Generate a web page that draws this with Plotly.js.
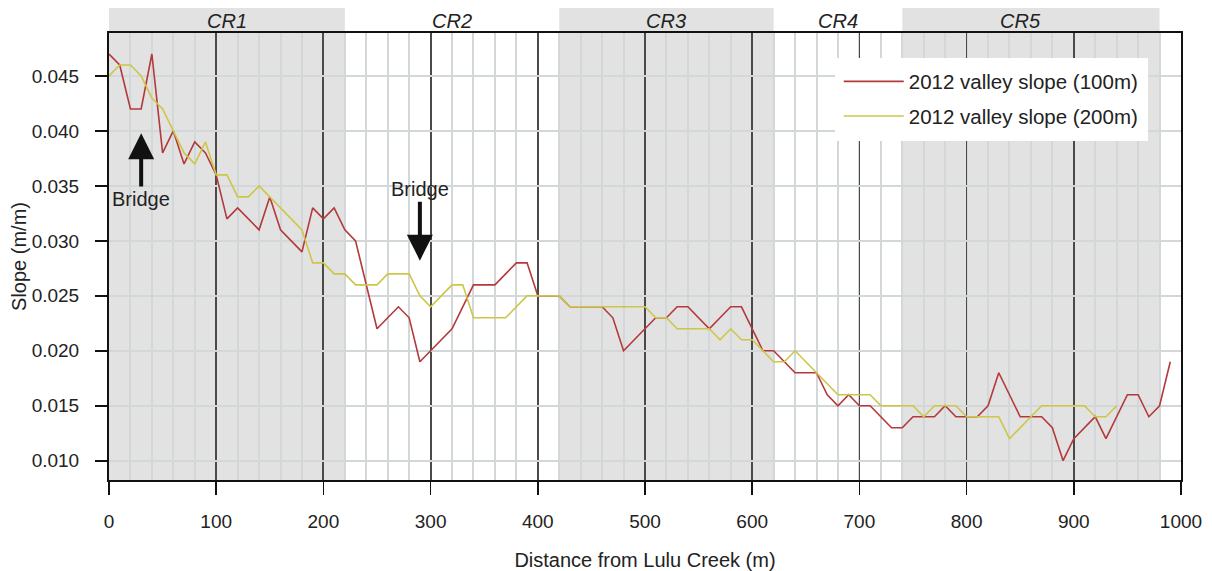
<!DOCTYPE html>
<html>
<head>
<meta charset="utf-8">
<script src="https://cdn.plot.ly/plotly-3.0.1.min.js"></script>
<style>
  html, body { margin: 0; padding: 0; background: #ffffff; }
  #chart { width: 1212px; height: 571px; }
</style>
</head>
<body>
<div id="chart"></div>
<script>
// Distance along the valley (m) and valley slope from 100 m and 200 m windows
const dist100 = [0, 10, 20, 30, 40, 50, 60, 70, 80, 90,
  100, 110, 120, 130, 140, 150, 160, 170, 180, 190,
  200, 210, 220, 230, 240, 250, 260, 270, 280, 290,
  300, 310, 320, 330, 340, 350, 360, 370, 380, 390,
  400, 410, 420, 430, 440, 450, 460, 470, 480, 490,
  500, 510, 520, 530, 540, 550, 560, 570, 580, 590,
  600, 610, 620, 630, 640, 650, 660, 670, 680, 690,
  700, 710, 720, 730, 740, 750, 760, 770, 780, 790,
  800, 810, 820, 830, 840, 850, 860, 870, 880, 890,
  900, 910, 920, 930, 940, 950, 960, 970, 980, 990];
const slope100 = [0.047, 0.046, 0.042, 0.042, 0.047, 0.038, 0.040, 0.037, 0.039, 0.038,
  0.036, 0.032, 0.033, 0.032, 0.031, 0.034, 0.031, 0.030, 0.029, 0.033,
  0.032, 0.033, 0.031, 0.030, 0.026, 0.022, 0.023, 0.024, 0.023, 0.019,
  0.020, 0.021, 0.022, 0.024, 0.026, 0.026, 0.026, 0.027, 0.028, 0.028,
  0.025, 0.025, 0.025, 0.024, 0.024, 0.024, 0.024, 0.023, 0.020, 0.021,
  0.022, 0.023, 0.023, 0.024, 0.024, 0.023, 0.022, 0.023, 0.024, 0.024,
  0.022, 0.020, 0.020, 0.019, 0.018, 0.018, 0.018, 0.016, 0.015, 0.016,
  0.015, 0.015, 0.014, 0.013, 0.013, 0.014, 0.014, 0.014, 0.015, 0.014,
  0.014, 0.014, 0.015, 0.018, 0.016, 0.014, 0.014, 0.014, 0.013, 0.010,
  0.012, 0.013, 0.014, 0.012, 0.014, 0.016, 0.016, 0.014, 0.015, 0.019];

const dist200 = [0, 10, 20, 30, 40, 50, 60, 70, 80, 90,
  100, 110, 120, 130, 140, 150, 160, 170, 180, 190,
  200, 210, 220, 230, 240, 250, 260, 270, 280, 290,
  300, 310, 320, 330, 340, 350, 360, 370, 380, 390,
  400, 410, 420, 430, 440, 450, 460, 470, 480, 490,
  500, 510, 520, 530, 540, 550, 560, 570, 580, 590,
  600, 610, 620, 630, 640, 650, 660, 670, 680, 690,
  700, 710, 720, 730, 740, 750, 760, 770, 780, 790,
  800, 810, 820, 830, 840, 850, 860, 870, 880, 890,
  900, 910, 920, 930, 940];
const slope200 = [0.045, 0.046, 0.046, 0.045, 0.043, 0.042, 0.040, 0.038, 0.037, 0.039,
  0.036, 0.036, 0.034, 0.034, 0.035, 0.034, 0.033, 0.032, 0.031, 0.028,
  0.028, 0.027, 0.027, 0.026, 0.026, 0.026, 0.027, 0.027, 0.027, 0.025,
  0.024, 0.025, 0.026, 0.026, 0.023, 0.023, 0.023, 0.023, 0.024, 0.025,
  0.025, 0.025, 0.025, 0.024, 0.024, 0.024, 0.024, 0.024, 0.024, 0.024,
  0.024, 0.023, 0.023, 0.022, 0.022, 0.022, 0.022, 0.021, 0.022, 0.021,
  0.021, 0.020, 0.019, 0.019, 0.020, 0.019, 0.018, 0.017, 0.016, 0.016,
  0.016, 0.016, 0.015, 0.015, 0.015, 0.015, 0.014, 0.015, 0.015, 0.015,
  0.014, 0.014, 0.014, 0.014, 0.012, 0.013, 0.014, 0.015, 0.015, 0.015,
  0.015, 0.015, 0.014, 0.014, 0.015];

// Channel reaches
const reachNames = ['CR1', 'CR2', 'CR3', 'CR4', 'CR5'];
const reachStart = [0, 220, 420, 620, 740];
const reachEnd = [220, 420, 620, 740, 980];
const reachShaded = [true, false, true, false, true];
const reachLabelX = [110, 320, 520, 680, 850];

// Bridge locations (m)
const bridgeX = [30, 290];

const xTicks = [0, 100, 200, 300, 400, 500, 600, 700, 800, 900, 1000];
const yTicks = [0.010, 0.015, 0.020, 0.025, 0.030, 0.035, 0.040, 0.045];

const FONT = 'Liberation Sans, Arial, Helvetica, sans-serif';
const TXT = '#222222';

const traces = [
  {
    x: dist100, y: slope100, type: 'scatter', mode: 'lines',
    name: '2012 valley slope (100m)', legendgroup: 'w100',
    line: { color: '#b3393b', width: 1.6 }
  },
  {
    x: dist200, y: slope200, type: 'scatter', mode: 'lines',
    name: '2012 valley slope (200m)', legendgroup: 'w200',
    line: { color: '#cdc647', width: 1.6 }
  }
];

const shapes = [];
const annotations = [];
const headerTop = 1 + 25 / 447;

reachNames.forEach((name, i) => {
  if (reachShaded[i]) {
    // shaded band inside the plot
    shapes.push({
      type: 'rect', xref: 'x', yref: 'paper',
      x0: reachStart[i], x1: reachEnd[i], y0: 0, y1: 1,
      fillcolor: '#e2e2e2', line: { width: 0 }, layer: 'below'
    });
    // matching header strip above the plot
    shapes.push({
      type: 'rect', xref: 'x', yref: 'paper',
      x0: reachStart[i], x1: reachEnd[i], y0: 1, y1: headerTop,
      fillcolor: '#e2e2e2', line: { width: 0 }, layer: 'below'
    });
  }
  annotations.push({
    xref: 'x', yref: 'paper', x: reachLabelX[i], y: (1 + headerTop) / 2,
    text: '<i>' + name + '</i>', showarrow: false,
    xanchor: 'center', yanchor: 'middle',
    font: { family: FONT, size: 20, color: TXT }
  });
});

// Bridge markers
annotations.push({
  xref: 'x', yref: 'y', x: bridgeX[0], y: 0.0398,
  axref: 'x', ayref: 'y', ax: bridgeX[0], ay: 0.0338,
  text: 'Bridge', showarrow: true, arrowhead: 2, arrowsize: 1.3,
  arrowwidth: 4, arrowcolor: '#111111', standoff: 0, startstandoff: 0,
  font: { family: FONT, size: 20, color: TXT }
});
annotations.push({
  xref: 'x', yref: 'y', x: bridgeX[1], y: 0.0282,
  axref: 'x', ayref: 'y', ax: bridgeX[1], ay: 0.0347,
  text: 'Bridge', showarrow: true, arrowhead: 2, arrowsize: 1.3,
  arrowwidth: 4, arrowcolor: '#111111', standoff: 0, startstandoff: 0,
  font: { family: FONT, size: 20, color: TXT }
});

const layout = {
  width: 1212, height: 571,
  margin: { l: 109, r: 31, t: 33, b: 91, pad: 0 },
  paper_bgcolor: '#ffffff',
  plot_bgcolor: '#ffffff',
  font: { family: FONT, size: 19, color: TXT },
  showlegend: true,
  legend: {
    x: 0.677, y: 0.945, xanchor: 'left', yanchor: 'top',
    bgcolor: '#ffffff', bordercolor: '#ffffff', borderwidth: 4,
    font: { family: FONT, size: 20.5, color: TXT },
    itemwidth: 60, tracegroupgap: 5, traceorder: 'grouped'
  },
  xaxis: {
    range: [0, 1000], autorange: false,
    tickmode: 'array', tickvals: xTicks,
    ticks: 'outside', ticklen: 13, tickwidth: 1.5, tickcolor: '#111111',
    ticklabelstandoff: 10,
    showgrid: true, gridcolor: '#4a4a4a', gridwidth: 1.8,
    minor: { dtick: 20, tick0: 0, showgrid: true, gridcolor: '#d2d8da', gridwidth: 2, ticks: '' },
    showline: true, linecolor: '#111111', linewidth: 2, mirror: true,
    zeroline: false,
    tickfont: { family: FONT, size: 19, color: TXT },
    title: { text: 'Distance from Lulu Creek (m)', standoff: 22,
             font: { family: FONT, size: 20, color: TXT } },
    automargin: false
  },
  yaxis: {
    range: [0.008244, 0.04891], autorange: false,
    tickmode: 'array', tickvals: yTicks, tickformat: '.3f',
    ticks: 'outside', ticklen: 12, tickwidth: 2, tickcolor: '#111111',
    ticklabelstandoff: 12,
    showgrid: true, gridcolor: '#d2d8da', gridwidth: 2,
    showline: true, linecolor: '#111111', linewidth: 2, mirror: true,
    zeroline: false,
    tickfont: { family: FONT, size: 19, color: TXT },
    title: { text: 'Slope (m/m)', standoff: 0,
             font: { family: FONT, size: 20, color: TXT } },
    automargin: false
  },
  shapes: shapes,
  annotations: annotations
};

Plotly.newPlot('chart', traces, layout, { displayModeBar: false, staticPlot: true });
</script>
</body>
</html>
